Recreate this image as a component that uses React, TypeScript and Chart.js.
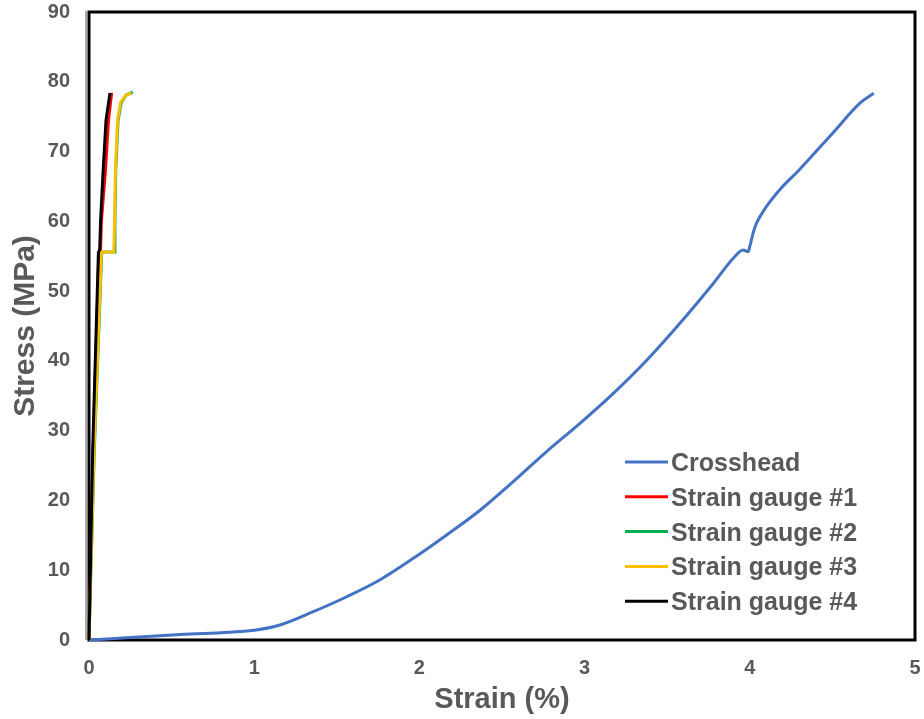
import React, { useEffect, useRef } from "react";
import { Chart, registerables } from "chart.js";

Chart.register(...registerables);

// ---- Data ----
const crossheadStrain = [0, 0.25, 0.53, 0.8, 1.0, 1.156, 1.358, 1.56, 1.76, 1.963, 2.165, 2.367, 2.568, 2.77, 2.972, 3.174, 3.376, 3.577, 3.779, 3.9, 3.96, 3.99, 4.0, 4.02, 4.04, 4.1, 4.18, 4.3, 4.5, 4.67, 4.75];
const crossheadStress = [0, 0.35, 0.75, 1.05, 1.4, 2.15, 4.06, 6.2, 8.6, 11.7, 15.05, 18.6, 22.7, 27.0, 31.05, 35.35, 40.1, 45.4, 51.1, 54.7, 55.9, 55.65, 56.4, 58.3, 59.7, 62.1, 64.5, 67.4, 72.6, 77.0, 78.35];

const gauge1Strain = [0, 0.025, 0.06, 0.07, 0.075, 0.1, 0.118, 0.137];
const gauge1Stress = [0, 27, 55.5, 56, 60, 67.4, 74.5, 78.4];

const gauge2Strain = [0, 0.032, 0.077, 0.152, 0.157, 0.162, 0.176, 0.195, 0.225, 0.265];
const gauge2Stress = [0, 27, 55.6, 55.6, 60, 67.4, 74.5, 77, 78.1, 78.5];

const gauge3Strain = [0, 0.03, 0.075, 0.15, 0.155, 0.16, 0.173, 0.19, 0.22, 0.258];
const gauge3Stress = [0, 27, 55.6, 55.6, 60, 67.4, 74.5, 77, 78, 78.4];

const gauge4Strain = [0, 0.022, 0.057, 0.065, 0.07, 0.086, 0.103, 0.127];
const gauge4Stress = [0, 27, 55.5, 56, 60, 67.4, 74.5, 78.4];

const seriesLabels = ["Crosshead", "Strain gauge #1", "Strain gauge #2", "Strain gauge #3", "Strain gauge #4"];
const seriesColors = ["#4472C4", "#FF0000", "#00B050", "#FFC000", "#000000"];

const xTicks = [0, 1, 2, 3, 4, 5];
const yTicks = [0, 10, 20, 30, 40, 50, 60, 70, 80, 90];

const FONT = "'Liberation Sans', Arial, sans-serif";
const TEXT = "#595959";

function pts(xs: number[], ys: number[]) {
  return xs.map((x, i) => ({ x, y: ys[i] }));
}

const framePlugin = {
  id: "frame",
  beforeDatasetsDraw(chart: any) {
    const { ctx, chartArea } = chart;
    ctx.save();
    ctx.strokeStyle = "#000";
    ctx.lineWidth = 3;
    ctx.strokeRect(chartArea.left, chartArea.top, chartArea.right - chartArea.left, chartArea.bottom - chartArea.top);
    ctx.strokeStyle = "#8c8c8c";
    ctx.lineWidth = 1.5;
    ctx.beginPath();
    ctx.moveTo(chartArea.left - 3, chartArea.top - 1);
    ctx.lineTo(chartArea.left - 3, chartArea.bottom);
    ctx.stroke();
    ctx.restore();
  },
};

const legendPlugin = {
  id: "customLegend",
  afterDraw(chart: any) {
    const { ctx } = chart;
    const x0 = 625;
    const y0 = 462;
    const step = 34.8;
    ctx.save();
    ctx.font = `bold 25px ${FONT}`;
    ctx.textBaseline = "alphabetic";
    ctx.textAlign = "left";
    chart.data.datasets.forEach((ds: any, i: number) => {
      const y = y0 + i * step;
      ctx.strokeStyle = ds.borderColor;
      ctx.lineWidth = 3;
      ctx.beginPath();
      ctx.moveTo(x0, y);
      ctx.lineTo(x0 + 43, y);
      ctx.stroke();
      ctx.fillStyle = TEXT;
      ctx.fillText(ds.label, x0 + 46, y + 9);
    });
    ctx.restore();
  },
};

export default function App() {
  const ref = useRef<HTMLCanvasElement | null>(null);
  useEffect(() => {
    if (!ref.current) return;
    const xsList = [crossheadStrain, gauge1Strain, gauge2Strain, gauge3Strain, gauge4Strain];
    const ysList = [crossheadStress, gauge1Stress, gauge2Stress, gauge3Stress, gauge4Stress];
    const chart = new Chart(ref.current, {
      type: "scatter",
      data: {
        datasets: seriesLabels.map((label, i) => ({
          label,
          data: pts(xsList[i], ysList[i]),
          showLine: true,
          borderColor: seriesColors[i],
          backgroundColor: seriesColors[i],
          borderWidth: 3,
          pointRadius: 0,
          pointHoverRadius: 0,
          tension: 0,
          cubicInterpolationMode: i === 0 ? "monotone" : "default",
          order: 5 - i,
          clip: 6,
        })),
      },
      options: {
        responsive: false,
        animation: false,
        events: [],
        layout: { padding: { top: 12, right: 9, left: 0, bottom: 0 } },
        plugins: {
          legend: { display: false },
          tooltip: { enabled: false },
        },
        scales: {
          x: {
            type: "linear",
            min: 0,
            max: 5,
            afterBuildTicks: (axis: any) => {
              axis.ticks = xTicks.map((v) => ({ value: v }));
            },
            afterFit: (axis: any) => {
              axis.height = 79;
              axis.paddingLeft = 0;
              axis.paddingRight = 0;
            },
            grid: { display: false, drawTicks: false, tickLength: 0 },
            border: { display: false },
            ticks: {
              padding: 16,
              color: TEXT,
              font: { family: FONT, size: 20, weight: "bold" },
            },
            title: {
              display: true,
              text: "Strain (%)",
              color: TEXT,
              font: { family: FONT, size: 29, weight: "bold", lineHeight: 1 },
              padding: { top: 0, bottom: 5 },
            },
          },
          y: {
            type: "linear",
            min: 0,
            max: 90,
            afterBuildTicks: (axis: any) => {
              axis.ticks = yTicks.map((v) => ({ value: v }));
            },
            afterFit: (axis: any) => {
              axis.width = 89;
              axis.paddingTop = 0;
              axis.paddingBottom = 0;
            },
            grid: { display: false, drawTicks: false, tickLength: 0 },
            border: { display: false },
            ticks: {
              padding: 19,
              color: TEXT,
              font: { family: FONT, size: 20, weight: "bold" },
            },
            title: {
              display: true,
              text: "Stress (MPa)",
              color: TEXT,
              font: { family: FONT, size: 30, weight: "bold", lineHeight: 1 },
              padding: { top: 11, bottom: 0 },
            },
          },
        },
      },
      plugins: [framePlugin, legendPlugin],
    } as any);
    return () => chart.destroy();
  }, []);
  return (
    <div style={{ position: "fixed", left: 0, top: 0, width: 924, height: 719, background: "#fff" }}>
      <canvas ref={ref} width={924} height={719} style={{ display: "block" }} />
    </div>
  );
}
